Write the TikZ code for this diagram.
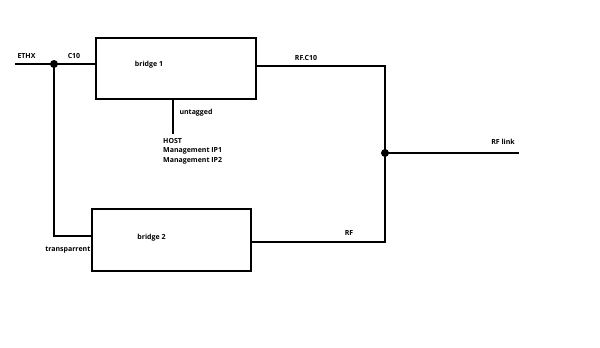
\documentclass[tikz,border=0pt]{standalone}
\usepackage{fontspec}
\setmainfont{Open Sans}
\usetikzlibrary{calc}

\tikzset{
  blk/.style={draw,line width=1.6pt,inner sep=0pt},
  lbl/.style={font=\bfseries\fontsize{7}{10}\selectfont,inner sep=0pt},
  wire/.style={line width=1.6pt},
  dot/.style={circle,fill,inner sep=0pt,minimum size=8pt}
}

\begin{document}
\begin{tikzpicture}[x=1pt,y=-1pt,line cap=rect,line join=miter]
  \useasboundingbox[fill=white] (0,0) rectangle (600,348);
  \node[blk,minimum width=160pt,minimum height=61pt] (b1) at (176,68.5) {};
  \node[blk,minimum width=159pt,minimum height=62pt] (b2) at (171.5,240) {};
  \node[dot] (j1) at (54,64) {};
  \node[dot] (j2) at (385,153) {};
  \coordinate (ethx) at (16,64);
  \coordinate (rflink) at (518,153);
  \coordinate (host) at (173,133);
  \draw[wire] (ethx) -- (j1) -- (j1 -| b1.west);
  \draw[wire] (j1) |- ([yshift=4pt]b2.west);
  \draw[wire] ([yshift=2.5pt]b1.east) -| (j2);
  \draw[wire] ([yshift=-2pt]b2.east) -| (j2);
  \draw[wire] (j2) -- (rflink);
  \draw[wire] (b1.south -| host) -- (host);
  \node[lbl] (l-ethx) at (26.5,56) {ETHX};
  \node[lbl] (l-c10) at (74,56) {C10};
  \node[lbl] (l-b1) at (149,65) {bridge 1};
  \node[lbl] (l-b2) at (151.5,238) {bridge 2};
  \node[lbl] (l-rfc10) at (306,58) {RF.C10};
  \node[lbl] (l-rflink) at (503,142) {RF link};
  \node[lbl] (l-rf) at (349,233) {RF};
  \node[lbl] (l-untag) at (196,113) {untagged};
  \node[lbl,anchor=east] (l-trans) at (90.5,250) {transparrent};
  \node[lbl,anchor=west] (l-host) at (163,140.5) {HOST};
  \node[lbl,anchor=west] (l-ip1) at (163,150.5) {Management IP1};
  \node[lbl,anchor=west] (l-ip2) at (163,160.5) {Management IP2};
\end{tikzpicture}
\end{document}
